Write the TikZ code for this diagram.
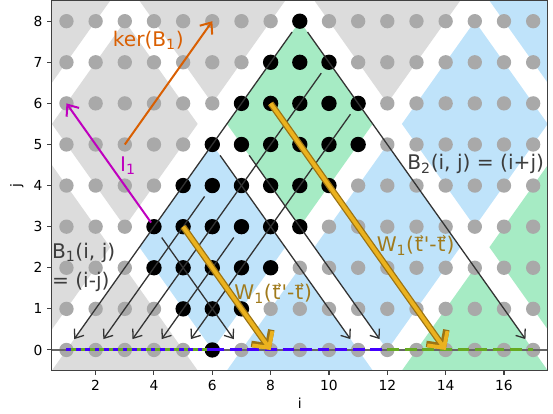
\documentclass[tikz,border=0pt]{standalone}
\usepackage{fontspec}
\setmainfont{DejaVu Sans}
\definecolor{TileGray}{HTML}{DCDCDC}
\definecolor{TileBlue}{HTML}{BFE3FA}
\definecolor{TileGreen}{HTML}{A6EBC4}
\definecolor{DotGray}{HTML}{A9A9A9}
\definecolor{DepGray}{HTML}{333333}
\definecolor{KerOrange}{HTML}{D95F02}
\definecolor{ImgMagenta}{HTML}{BF00BF}
\definecolor{WGold}{HTML}{EBB21E}
\definecolor{WGoldDark}{HTML}{9C7414}
\definecolor{WText}{HTML}{A07A1C}
\definecolor{LabelGray}{HTML}{3C3C3C}
\definecolor{ProjBlue}{HTML}{4400FF}
\definecolor{ProjGreen}{HTML}{66AA22}
\usetikzlibrary{arrows.meta}
\newcommand\vt{\leavevmode\vbox{\offinterlineskip\halign{\hfil##\hfil\cr{\fontsize{10}{10}\selectfont →}\cr\noalign{\kern-3pt}t\cr}}}

\begin{document}
\begin{tikzpicture}[x=0.8751cm, y=1.233cm,
    gdot/.style={circle, fill=DotGray, minimum size=0.43cm, inner sep=0pt},
    bdot/.style={circle, fill=black, minimum size=0.46cm, inner sep=0pt},
    dep/.style={draw=DepGray, line width=1.1pt, -{Straight Barb[length=6.5pt,width=10pt]},
      shorten <=0.4cm, shorten >=0.4cm},
    hint/.style={draw=#1, line width=1.7pt, -{Straight Barb[length=8pt,width=13pt]}},
    wfront/.style={line width=#1, -{Straight Barb[length=10pt,width=21pt]}},
    proj/.style={draw=#1, line width=2.6pt},
    axisline/.style={draw=black!75, line width=0.9pt},
    tick/.style={font=\fontsize{11.8}{14}\selectfont, inner sep=0pt, text=black},
    ann/.style={font=\fontsize{17.2}{24.6}\selectfont, inner sep=0pt, anchor=base west}]

  \useasboundingbox (-1.2787,-1.5572) rectangle (17.6804,8.5158);

  \begin{scope}
    \clip (0.5,-0.5) rectangle (17.5,8.5);
    \foreach \cx/\cy/\col in {0/8.5/TileGray, 0/2.5/TileGray, 3/5.5/TileGray, 6/8.5/TileGray,
        3/-0.5/TileGray, 12/8.5/TileGray, 6/2.5/TileBlue, 9/-0.5/TileBlue, 12/2.5/TileBlue,
        15/5.5/TileBlue, 18/8.5/TileBlue, 9/5.5/TileGreen, 15/-0.5/TileGreen, 18/2.5/TileGreen}
      \fill[\col] (\cx-2.5,\cy) -- (\cx,\cy-2.5) -- (\cx+2.5,\cy) -- (\cx,\cy+2.5) -- cycle;
  \end{scope}

  \foreach \i in {1,...,17}
    \foreach \j in {0,...,8}
      \node[gdot] (g-\i-\j) at (\i,\j) {};
  \foreach \j/\a/\b in {8/9/9, 7/8/10, 6/7/11, 5/6/11, 4/5/10, 3/4/9, 2/4/8, 1/5/7, 0/6/6}
    \foreach \i in {\a,...,\b}
      \node[bdot] (b-\i-\j) at (\i,\j) {};

  \foreach \s/\t in {9-8/1-0, 6-4/2-0, 10-7/3-0, 7-3/4-0, 11-6/5-0,
      4-3/7-0, 6-5/11-0, 7-5/12-0, 9-8/17-0}
    \draw[dep] (g-\s.center) -- (g-\t.center);

  \coordinate (zl) at (0.5,0);
  \coordinate (zr) at (17.5,0);
  \draw[black!60, line width=1.5pt] (zl) -- (zr);
  \draw[proj=ProjBlue, dash pattern=on 4pt off 4pt] (g-1-0.center) -- (g-6-0.center);
  \draw[proj=ProjGreen, dash pattern=on 4pt off 4pt, dash phase=4pt] (g-1-0.center) -- (g-6-0.center);
  \draw[proj=ProjBlue, dash pattern=on 10pt off 5pt] (g-6-0.center) -- (g-12-0.center);
  \draw[proj=ProjGreen, dash pattern=on 10pt off 5pt] (g-12-0.center) -- (g-17-0.center);

  \foreach \s/\t in {5-3/8-0, 8-6/14-0} {
    \draw[wfront=5.5pt, draw=WGoldDark] (g-\s.center) -- (g-\t.center);
    \draw[wfront=3.3pt, draw=WGold] (g-\s.center) -- (g-\t.center);
  }

  \draw[hint=KerOrange] (g-3-5.center) -- (g-6-8.center);
  \draw[hint=ImgMagenta, shorten <=0.15cm] (g-4-3.center) -- (g-1-6.center);

  \node[ann, text=KerOrange] (kerlab) at (2.585,7.38) {ker(B\textsubscript{1})};
  \node[ann, text=ImgMagenta] (imlab) at (2.835,4.34) {Ⅰ\textsubscript{1}};
  \node[ann, text=LabelGray] (b2lab) at (12.68,4.38) {B\textsubscript{2}(i, j) = (i+j)};
  \node[ann, text=LabelGray, align=left] (b1lab) at (0.5,1.53) {B\textsubscript{1}(i, j)\\= (i-j)};
  \node[ann, text=WText] (wlab1) at (6.75,1.22) {W\textsubscript{1}(\vt\textquotesingle-\vt)};
  \node[ann, text=WText] (wlab2) at (11.63,2.39) {W\textsubscript{1}(\vt\textquotesingle-\vt)};

  \draw[axisline] (0.5,-0.5) rectangle (17.5,8.5);
  \foreach \t in {2,4,...,16} {
    \draw[axisline] (\t,-0.5) -- (\t,-0.618);
    \node[tick] (xt-\t) at (\t,-0.855) {\t};
  }
  \foreach \t in {0,...,8} {
    \draw[axisline] (0.5,\t) -- (0.332,\t);
    \node[tick, anchor=east] (yt-\t) at (0.18,\t) {\t};
  }
  \node[tick] (xlab) at (9,-1.29) {i};
  \node[tick, rotate=90] (ylab) at (-0.7,4) {j};
\end{tikzpicture}
\end{document}
